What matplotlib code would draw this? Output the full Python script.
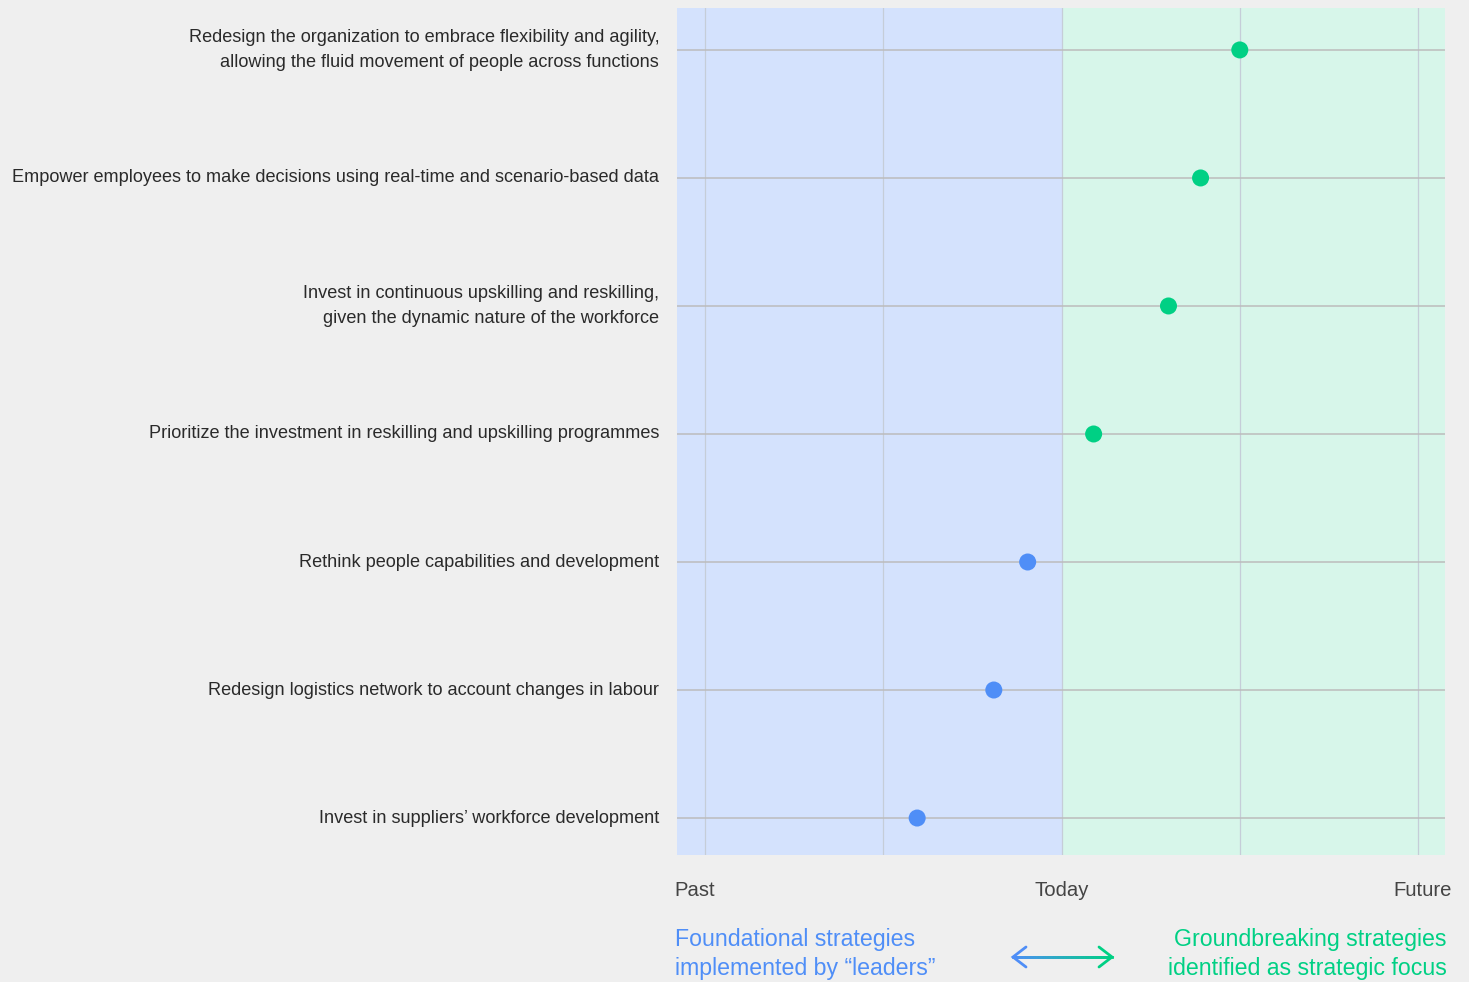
import numpy as np
import matplotlib.pyplot as plt
from matplotlib.collections import LineCollection

# strategies, bottom to top
strategies = [
    "Invest in suppliers\u2019 workforce development",
    "Redesign logistics network to account changes in labour",
    "Rethink people capabilities and development",
    "Prioritize the investment in reskilling and upskilling programmes",
    "Invest in continuous upskilling and reskilling,\ngiven the dynamic nature of the workforce",
    "Empower employees to make decisions using real-time and scenario-based data",
    "Redesign the organization to embrace flexibility and agility,\nallowing the fluid movement of people across functions",
]
# position on the past -> future scale (0 = past, 2 = today, 4 = future)
positions = [1.19, 1.62, 1.81, 2.18, 2.60, 2.78, 3.00]
time_labels = ["Past", "Today", "Future"]
time_ticks = [0, 2, 4]

BG = "#efefef"
BLUE = "#4f8ef7"
GREEN = "#00d084"
TEXT = "#2a2a2a"

plt.rcParams['font.family'] = ['Liberation Sans', 'DejaVu Sans']

fig = plt.figure(figsize=(14.69, 9.82), dpi=100, facecolor=BG)
ax = fig.add_axes([0.4609, 0.1293, 0.5231, 0.8626])
ax.set_facecolor(BG)

x0, x1 = -0.157, 4.154
ax.set_xlim(x0, x1)
ax.set_ylim(-0.289, 6.328)

ax.axvspan(x0, 2, color="#d4e2fd", zorder=0, lw=0)
ax.axvspan(2, x1, color="#d7f6ea", zorder=0, lw=0)

for gx in time_ticks + [1, 3]:
    ax.axvline(gx, color="#c5cdd8", lw=0.9, zorder=1)

ys = np.arange(len(strategies))
for y in ys:
    ax.axhline(y, color="#bcbcbc", lw=1.1, zorder=2)

colors = [BLUE if p < 2 else GREEN for p in positions]
ax.scatter(positions, ys, s=150, c=colors, zorder=3, linewidths=0)

for s in ax.spines.values():
    s.set_visible(False)
ax.set_xticks([])
ax.set_yticks([])

# row labels
for y, lab in zip(ys, strategies):
    ax.text(-0.257, y, lab, ha="right", va="center", fontsize=13.1,
            color=TEXT, linespacing=1.62)

# time axis labels
ty = -0.57
ax.text(-0.17, ty, time_labels[0], ha="left", va="center", fontsize=14.6, color="#444444")
ax.text(2, ty, time_labels[1], ha="center", va="center", fontsize=14.6, color="#444444")
ax.text(4.19, ty, time_labels[2], ha="right", va="center", fontsize=14.6, color="#444444")

# bottom legend
fig.text(675 / 1469, 1 - 954 / 982, "Foundational strategies\nimplemented by \u201cleaders\u201d",
         ha="left", va="center", fontsize=16.7, color=BLUE, linespacing=1.28)
fig.text(1447 / 1469, 1 - 954 / 982, "Groundbreaking strategies\nidentified as strategic focus",
         ha="right", va="center", fontsize=16.7, color=GREEN, linespacing=1.28,
         multialignment="right")

# gradient double arrow
ay = 1 - 957 / 982
ax_l, ax_r = 1013 / 1469, 1112 / 1469
n = 60
xs = np.linspace(ax_l, ax_r, n + 1)
segs = [[(xs[i], ay), (xs[i + 1], ay)] for i in range(n)]
c_blue = np.array([0x4f, 0x8e, 0xf7]) / 255
c_green = np.array([0x00, 0xd0, 0x84]) / 255
seg_cols = [c_blue + (c_green - c_blue) * (i / (n - 1)) for i in range(n)]
lc = LineCollection(segs, colors=seg_cols, linewidths=2, capstyle="projecting",
                    transform=fig.transFigure)
fig.add_artist(lc)
hw, hh = 13 / 1469, 10 / 982
fig.add_artist(plt.Line2D([ax_l + hw, ax_l, ax_l + hw], [ay + hh, ay, ay - hh],
                          color=BLUE, lw=2, transform=fig.transFigure,
                          solid_capstyle="round", solid_joinstyle="miter"))
fig.add_artist(plt.Line2D([ax_r - hw, ax_r, ax_r - hw], [ay + hh, ay, ay - hh],
                          color=GREEN, lw=2, transform=fig.transFigure,
                          solid_capstyle="round", solid_joinstyle="miter"))

fig.savefig("out.png", dpi=100, facecolor=BG)
